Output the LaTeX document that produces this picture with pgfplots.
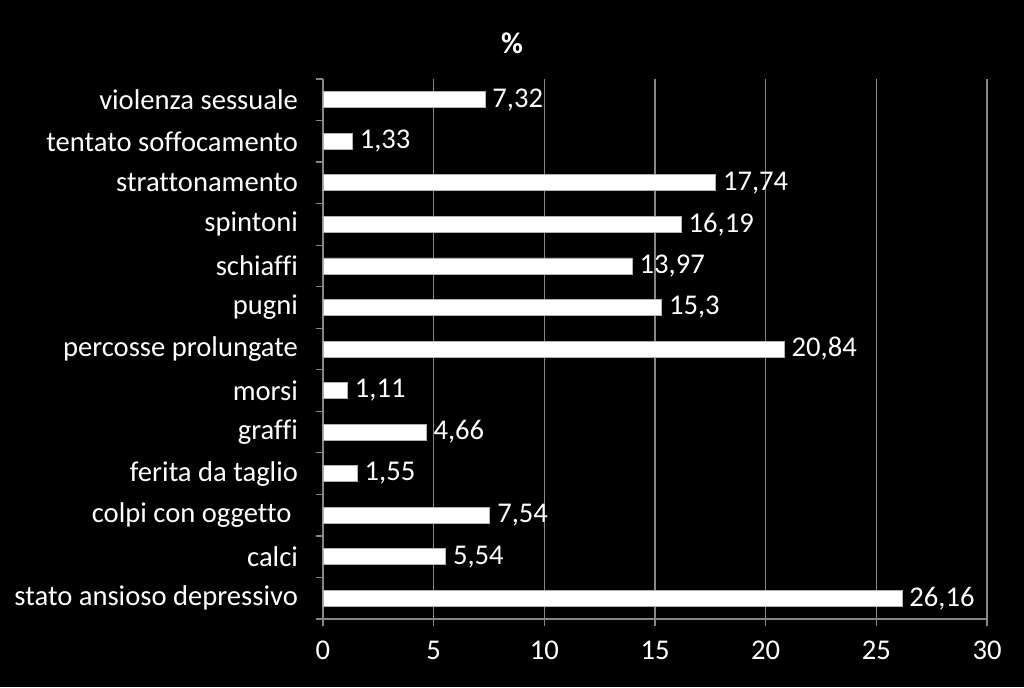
\documentclass[border=0pt]{standalone}
\usepackage{pgfplots}
\pgfplotsset{compat=1.18}
\usepackage{pgfplotstable}
\usepackage{fontspec}
\setmainfont{Carlito}[Ligatures=NoCommon]
\definecolor{gridgray}{RGB}{134,134,134}
\pgfplotstableread[col sep=comma]{
pos,val,lab
0,26.16,{26,16}
1,5.54,{5,54}
2,7.54,{7,54}
3,1.55,{1,55}
4,4.66,{4,66}
5,1.11,{1,11}
6,20.84,{20,84}
7,15.3,{15,3}
8,13.97,{13,97}
9,16.19,{16,19}
10,17.74,{17,74}
11,1.33,{1,33}
12,7.32,{7,32}
}\datatable
\begin{document}
\begin{tikzpicture}
\fill[black] (0,0) rectangle (512pt,343.5pt);
\useasboundingbox (0,0) rectangle (512pt,343.5pt);
\node[text=white, font=\fontsize{15}{17}\selectfont\bfseries] at (256pt,322pt) {\%};
\begin{axis}[
  at={(161.5pt,34pt)}, anchor=south west,
  scale only axis, width=332pt, height=270pt,
  xmin=0, xmax=30, ymin=-0.5, ymax=12.5,
  axis lines=left, axis line style={-, draw=gridgray, line width=0.6pt},
  xtick={0,5,...,30},
  xmajorgrids=true, ymajorgrids=false,
  grid style={draw=gridgray, line width=0.6pt},
  tick style={draw=gridgray, line width=0.6pt},
  tick align=outside, major tick length=3.5pt,
  ytick={-0.5,0.5,...,12.5}, yticklabels={},
  extra y ticks={0,1,...,12},
  extra y tick labels={stato ansioso depressivo,calci,{colpi con oggetto\kern3.2pt},ferita da taglio,graffi,morsi,percosse prolungate,pugni,schiaffi,spintoni,strattonamento,tentato soffocamento,violenza sessuale},
  extra y tick style={major tick length=0pt, yticklabel style={xshift=-9pt}},
  ticklabel style={text=white, font=\fontsize{14.3}{16}\selectfont},
  xticklabel style={yshift=-4pt},
  /pgf/number format/assume math mode=true,
  xbar, bar width=8pt,
  nodes near coords,
  point meta=explicit symbolic,
  nodes near coords style={text=white, font=\fontsize{14.3}{16}\selectfont, anchor=west, inner sep=2.5pt, xshift=1pt},
  clip=false,
]
\addplot[fill=white, draw=gray!60, line width=0.4pt] table[x=val, y=pos, meta=lab] {\datatable};
\end{axis}
\end{tikzpicture}
\end{document}
